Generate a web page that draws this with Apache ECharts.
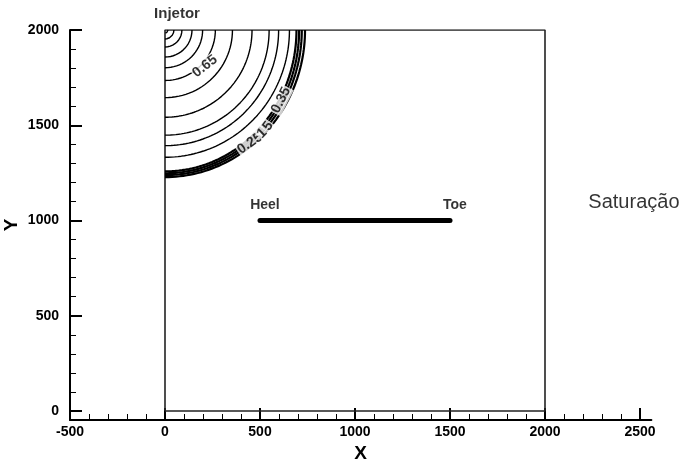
<!DOCTYPE html>
<html><head><meta charset="utf-8">
<script src="https://cdn.jsdelivr.net/npm/echarts@6/dist/echarts.min.js"></script>
<style>html,body{margin:0;padding:0;background:#fff}#c{width:689px;height:464px}</style>
</head><body><div id="c"></div><script>
// ---- data ----
const xMajorTicks = [-500, 0, 500, 1000, 1500, 2000, 2500];
const yMajorTicks = [0, 500, 1000, 1500, 2000];
const reservoirX = [0, 2000, 2000, 0, 0];
const reservoirY = [0, 0, 2000, 2000, 0];
const wellX = [500, 1500];
const wellY = [1000, 1000];
const injectorX = 0, injectorY = 2000;
const contourRx = [16, 47, 89, 142, 198, 265, 355, 458, 548, 598, 655];
const contourRy = [16, 47, 89, 142, 198, 265, 355, 458, 552, 607, 668];
const frontRx = [692, 706, 720, 737];
const frontRy = [742, 752, 762, 772];
const contourLabels = ['0.65', '0.25', '1', '5', '0.35'];
const contourLabelX = [210, 447, 510, 542, 610];
const contourLabelY = [1810, 1405, 1458, 1495, 1632];
const contourLabelRot = [38, 35, 45, 55, 63];
const annotTexts = ['Injetor', 'Heel', 'Toe'];
const annotX = [63, 526, 1526];
const annotY = [2084, 1079, 1079];
const sideText = 'Saturação';
const sideX = 2468, sideY = 1095;

// ---- helpers ----
function arc(rx, ry) {
  const pts = [];
  for (let a = 0; a <= 90; a += 1.5) {
    const t = a * Math.PI / 180;
    pts.push([injectorX + rx * Math.cos(t), injectorY - ry * Math.sin(t)]);
  }
  return pts;
}
const minorX = [], minorY = [];
for (let v = -500; v <= 2500; v += 100) if (xMajorTicks.indexOf(v) < 0) minorX.push(v);
for (let v = 0; v <= 2000; v += 100) if (yMajorTicks.indexOf(v) < 0) minorY.push(v);

const F = '"Liberation Sans", Arial, Helvetica, sans-serif';
const series = [];
series.push({type: 'line', data: reservoirX.map((x, i) => [x, reservoirY[i]]), showSymbol: false,
  lineStyle: {color: '#222', width: 1.6}, silent: true, z: 2});
contourRx.forEach((rx, i) => series.push({type: 'line', data: arc(rx, contourRy[i]), showSymbol: false,
  lineStyle: {color: '#000', width: 1.4}, silent: true, z: 3}));
frontRx.forEach((rx, i) => series.push({type: 'line', data: arc(rx, frontRy[i]), showSymbol: false,
  lineStyle: {color: '#000', width: 2.2}, silent: true, z: 3}));
series.push({type: 'line', data: wellX.map((x, i) => [x, wellY[i]]), showSymbol: false,
  lineStyle: {color: '#000', width: 5, cap: 'round'}, silent: true, z: 4});
contourLabels.forEach((t, i) => series.push({type: 'scatter', symbolSize: 0, clip: false, silent: true, z: 6,
  data: [[contourLabelX[i], contourLabelY[i]]],
  label: {show: true, position: 'inside', formatter: t, rotate: contourLabelRot[i], color: '#000',
    fontFamily: F, fontWeight: 'bold', fontSize: 14, backgroundColor: '#fff', padding: [0, 1]}}));
annotTexts.forEach((t, i) => series.push({type: 'scatter', symbolSize: 0, clip: false, silent: true, z: 6,
  data: [[annotX[i], annotY[i]]],
  label: {show: true, position: 'inside', formatter: t, color: '#000', fontFamily: F, fontWeight: 'bold', fontSize: i === 0 ? 15 : 14}}));
series.push({type: 'scatter', symbolSize: 0, clip: false, silent: true, z: 6, data: [[sideX, sideY]],
  label: {show: true, position: 'inside', formatter: sideText, color: '#000', fontFamily: F, fontSize: 20}});

const chart = echarts.init(document.getElementById('c'), null, {renderer: 'canvas'});
const fmt = v => String(v);
chart.setOption({
  animation: false,
  backgroundColor: '#fff',
  grid: {left: 70, right: 37.6, top: 30, bottom: 44, containLabel: false, outerBoundsMode: 'none'},
  xAxis: [{
    type: 'value', min: -500, max: 2560, position: 'bottom',
    name: 'X', nameLocation: 'middle', nameGap: 24, nameMoveOverlap: false,
    nameTextStyle: {fontFamily: F, fontWeight: 'bold', fontSize: 19, color: '#000'},
    axisLine: {show: true, onZero: false, lineStyle: {color: '#000', width: 2}},
    axisTick: {show: true, inside: true, length: 12, customValues: xMajorTicks, lineStyle: {color: '#000', width: 2}},
    axisLabel: {customValues: xMajorTicks, formatter: fmt, margin: 5, fontFamily: F, fontWeight: 'bold', fontSize: 14, color: '#000'},
    splitLine: {show: false}
  }, {
    type: 'value', min: -500, max: 2560, position: 'bottom',
    axisLine: {show: false, onZero: false},
    axisTick: {show: true, inside: true, length: 6, customValues: minorX, lineStyle: {color: '#000', width: 1}},
    axisLabel: {show: false}, splitLine: {show: false}
  }],
  yAxis: [{
    type: 'value', min: -47, max: 2000, position: 'left',
    name: 'Y', nameLocation: 'middle', nameGap: 49, nameMoveOverlap: false,
    nameTextStyle: {fontFamily: F, fontWeight: 'bold', fontSize: 19, color: '#000'},
    axisLine: {show: true, onZero: false, lineStyle: {color: '#000', width: 2}},
    axisTick: {show: true, inside: true, length: 12, customValues: yMajorTicks, lineStyle: {color: '#000', width: 2}},
    axisLabel: {customValues: yMajorTicks, formatter: fmt, margin: 11, fontFamily: F, fontWeight: 'bold', fontSize: 14, color: '#000'},
    splitLine: {show: false}
  }, {
    type: 'value', min: -47, max: 2000, position: 'left',
    axisLine: {show: false, onZero: false},
    axisTick: {show: true, inside: true, length: 6, customValues: minorY, lineStyle: {color: '#000', width: 1}},
    axisLabel: {show: false}, splitLine: {show: false}
  }],
  series: series
});
</script></body></html>
